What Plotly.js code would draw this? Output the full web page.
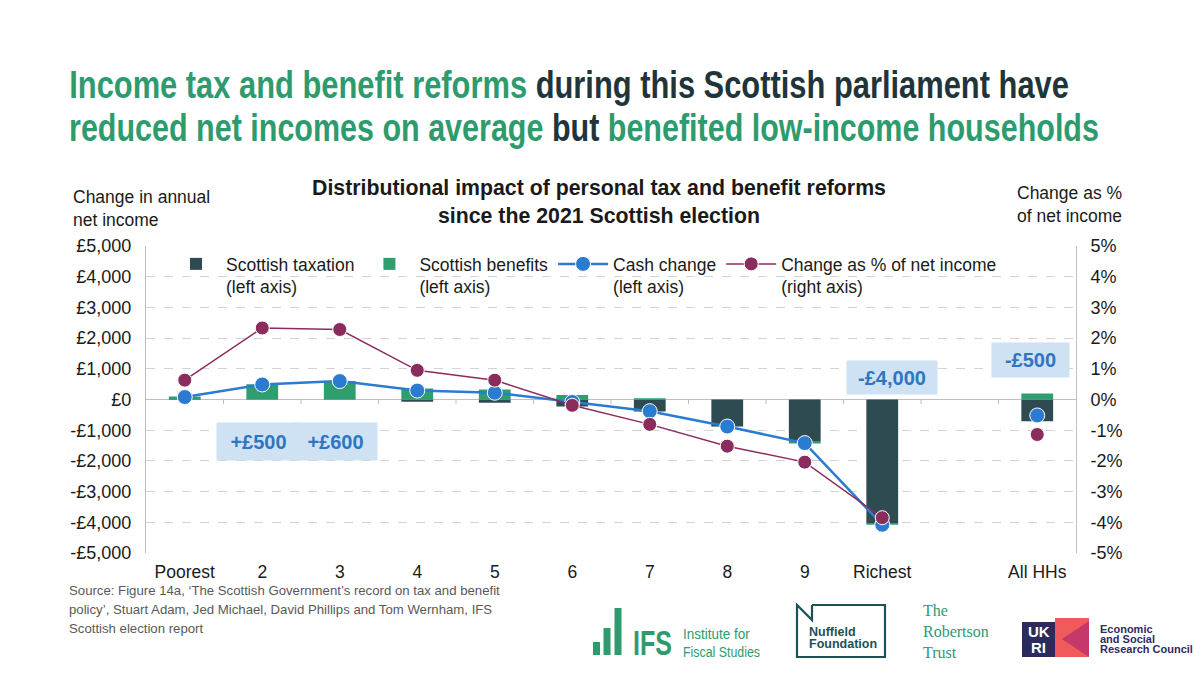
<!DOCTYPE html>
<html><head><meta charset="utf-8">
<script src="https://cdn.plot.ly/plotly-3.0.1.min.js"></script>
<style>html,body{margin:0;padding:0;background:#fff}#chart{width:1200px;height:675px}</style>
</head><body><div id="chart"></div>
<script>
// ---- data ----
const categories = ["Poorest","2","3","4","5","6","7","8","9","Richest","","All HHs"];
const taxation   = [-20, -5, -5, -75, -107, -230, -390, -880, -1380, -4020, null, -710];
const benefits   = [100, 495, 600, 360, 325, 145, 42, -10, -50, -60, null, 195];
const cashChange = [80, 490, 600, 290, 220, -80, -380, -880, -1420, -4080, null, -520];
const pctChange  = [0.63, 2.33, 2.28, 0.95, 0.63, -0.19, -0.81, -1.52, -2.04, -3.85, null, -1.14];
const leftTickVals  = [-5000,-4000,-3000,-2000,-1000,0,1000,2000,3000,4000,5000];
const leftTickText  = ["-£5,000","-£4,000","-£3,000","-£2,000","-£1,000","£0","£1,000","£2,000","£3,000","£4,000","£5,000"];
const rightTickVals = [-5,-4,-3,-2,-1,0,1,2,3,4,5];
const rightTickText = ["-5%","-4%","-3%","-2%","-1%","0%","1%","2%","3%","4%","5%"];
const seriesNames = ["Scottish taxation<br>(left axis)","Scottish benefits<br>(left axis)","Cash change<br>(left axis)","Change as % of net income<br>(right axis)"];

// ---- layout helpers ----
const L = 146, R = 1076, T = 246, B = 553;
const W = R - L, H = B - T;
const px = x => (x - L) / W;
const py = y => (B - y) / H;
const xIdx = categories.map((c, i) => i);

const C_TAX = "#2f4b52", C_BEN = "#2e9e6e", C_CASH = "#2b7bd0", C_PCT = "#8b2d5c";
const GREEN = "#2e9b6e", DARK = "#1f353b";
const FONT = "Liberation Sans, Arial, sans-serif";
const SERIF = "Liberation Serif, DejaVu Serif, serif";

const traces = [
  {type:"bar", name:seriesNames[0], x:xIdx, y:taxation, marker:{color:C_TAX}, yaxis:"y", hoverinfo:"skip"},
  {type:"bar", name:seriesNames[1], x:xIdx, y:benefits, marker:{color:C_BEN}, yaxis:"y", hoverinfo:"skip"},
  {type:"scatter", mode:"lines+markers", name:seriesNames[2], x:xIdx, y:cashChange, yaxis:"y",
   line:{color:C_CASH, width:2.5}, marker:{color:C_CASH, size:15, line:{color:"#fff", width:1}}, connectgaps:false, hoverinfo:"skip"},
  {type:"scatter", mode:"lines+markers", name:seriesNames[3], x:xIdx, y:pctChange, yaxis:"y2",
   line:{color:C_PCT, width:1.5}, marker:{color:C_PCT, size:14, line:{color:"#fff", width:1}}, connectgaps:false, hoverinfo:"skip"}
];

const shapes = [];
// category boundary ticks on the zero line
for (let i = 0; i < categories.length - 1; i++) {
  shapes.push({type:"line", xref:"x", yref:"y", x0:i+0.5, x1:i+0.5, y0:0, y1:-150, line:{color:"#bfbfbf", width:1}});
}
// logos
const rectPx = (x0,y0,x1,y1,color) => ({type:"rect", xref:"paper", yref:"paper", x0:px(x0), x1:px(x1), y0:py(y1), y1:py(y0), fillcolor:color, line:{width:0}, layer:"above"});
shapes.push(rectPx(593,642,600,655,GREEN));
shapes.push(rectPx(603.5,628,610.5,655,GREEN));
shapes.push(rectPx(614.5,608,621.5,655,GREEN));
const pathPx = pts => "M " + pts.map(p => px(p[0]).toFixed(5) + "," + py(p[1]).toFixed(5)).join(" L ");
shapes.push({type:"path", xref:"paper", yref:"paper", path:pathPx([[812,605],[812,620],[797,605],[797,657],[885,657],[885,605],[812,605]]),
  line:{color:"#1d5156", width:2.2}, fillcolor:"rgba(0,0,0,0)", layer:"above"});
shapes.push(rectPx(1022,622,1055,657,"#2c2a5e"));
shapes.push(rectPx(1055,618,1089,657,"#f05a5a"));
shapes.push({type:"path", xref:"paper", yref:"paper", path:pathPx([[1089,621],[1062,639],[1089,657]]) + " Z",
  fillcolor:"#c4386a", line:{width:0}, layer:"above"});

const ann = [];
const squeeze = []; // [annotation index, target width px, origin]
const txt = (x, y, text, size, color, opts) => Object.assign({xref:"paper", yref:"paper", x:px(x), y:py(y), text:text, showarrow:false,
  xanchor:"left", yanchor:"middle", font:{family:FONT, size:size, color:color}}, opts || {});

// main heading (condensed look: horizontally squeezed to the reference width)
squeeze.push([ann.length, 1000, "left center"]);
ann.push(txt(67, 84, `<b><span style="color:${GREEN}">Income tax and benefit reforms</span> during this Scottish parliament have</b>`, 39, DARK));
squeeze.push([ann.length, 1030, "left center"]);
ann.push(txt(67, 127, `<b><span style="color:${GREEN}">reduced net incomes on average</span> but <span style="color:${GREEN}">benefited low-income households</span></b>`, 39, DARK));
// chart title
ann.push(txt(599, 202, "<b>Distributional impact of personal tax and benefit reforms</b><br><b>since the 2021 Scottish election</b>", 21.3, "#1a1a1a", {xanchor:"center"}));
// axis titles
ann.push(txt(71, 208, "Change in annual<br>net income", 17.5, "#1a1a1a", {align:"left"}));
ann.push(txt(1124, 205, "Change as %<br>of net income", 17.5, "#1a1a1a", {xanchor:"right", align:"right"}));
// callouts
const callout = (xi, yv, text, w, h, xs) => ({xref:"x", yref:"y", x:xi, y:yv, text:"<b>"+text+"</b>", showarrow:false,
  bgcolor:"#cfe2f3", width:w, height:h, xshift:xs||0, font:{family:FONT, size:20, color:"#2e75c2"}});
ann.push(callout(1, -1373, "+£500", 81, 35, -4));
ann.push(callout(2, -1373, "+£600", 81, 35, -4));
ann.push(callout(9, 710, "-£4,000", 88, 31, 10));
ann.push(callout(11, 1280, "-£500", 75, 32, -7));
// source
ann.push(txt(67, 590, "Source: Figure 14a, ‘The Scottish Government’s record on tax and benefit", 13.2, "#595959"));
ann.push(txt(67, 609, "policy’, Stuart Adam, Jed Michael, David Phillips and Tom Wernham, IFS", 13.2, "#595959"));
ann.push(txt(67, 628, "Scottish election report", 13.2, "#595959"));
// logos text
squeeze.push([ann.length, 39, "left center"]);
ann.push(txt(631, 642, "<b>IFS</b>", 36, GREEN));
squeeze.push([ann.length, 67, "left center"]);
ann.push(txt(681, 634, "Institute for", 14.5, GREEN));
squeeze.push([ann.length, 77, "left center"]);
ann.push(txt(681, 651.5, "Fiscal Studies", 14.5, GREEN));
ann.push(txt(807, 631.5, "<b>Nuffield</b>", 12.5, "#1d5156"));
ann.push(txt(807, 643.5, "<b>Foundation</b>", 12.5, "#1d5156"));
ann.push(txt(921, 631.5, "The<br>Robertson<br>Trust", 16, "#2a9a78", {align:"left", font:{family:SERIF, size:16, color:"#2a9a78"}}));
ann.push(txt(1038.5, 631, "<b>UK</b>", 15, "#ffffff", {xanchor:"center"}));
ann.push(txt(1038.5, 647, "<b>RI</b>", 15, "#ffffff", {xanchor:"center"}));
ann.push(txt(1098, 628.5, "<b>Economic</b>", 11, "#2f2c5e"));
ann.push(txt(1098, 638.5, "<b>and Social</b>", 11, "#2f2c5e"));
ann.push(txt(1098, 648.5, "<b>Research Council</b>", 11, "#2f2c5e"));

const layout = {
  width:1200, height:675,
  margin:{l:L, r:1200-R, t:T, b:675-B, pad:0},
  paper_bgcolor:"#fff", plot_bgcolor:"#fff",
  barmode:"relative", bargap:0.59,
  font:{family:FONT, size:17.5, color:"#1a1a1a"},
  showlegend:true,
  legend:{orientation:"h", x:px(166), y:py(246), xanchor:"left", yanchor:"top", bgcolor:"rgba(0,0,0,0)",
    font:{family:FONT, size:17.5, color:"#1a1a1a"}, itemwidth:50, traceorder:"normal", valign:"top"},
  xaxis:{range:[-0.5, categories.length-0.5], tickvals:xIdx, ticktext:categories, showgrid:false, zeroline:false,
    showline:false, ticks:"", ticklabelstandoff:6, tickfont:{size:17.5}, fixedrange:true},
  yaxis:{range:[-5000,5000], tickvals:leftTickVals, ticktext:leftTickText, showgrid:true, gridcolor:"#d3d3d3", griddash:"dash",
    zeroline:true, zerolinecolor:"#bfbfbf", zerolinewidth:1, showline:true, linecolor:"#bfbfbf", linewidth:1,
    ticks:"", ticklabelstandoff:10, tickfont:{size:18}},
  yaxis2:{range:[-5,5], overlaying:"y", side:"right", tickvals:rightTickVals, ticktext:rightTickText, showgrid:false, zeroline:false,
    showline:true, linecolor:"#bfbfbf", linewidth:1, ticks:"", ticklabelstandoff:10, tickfont:{size:18}},
  shapes:shapes, annotations:ann
};
Plotly.newPlot("chart", traces, layout, {staticPlot:true, displayModeBar:false}).then(gd => {
  squeeze.forEach(([idx, target, origin]) => {
    const g = gd.querySelector('.annotation[data-index="' + idx + '"]');
    if (!g) return;
    const t = g.querySelector('text.annotation-text');
    if (!t) return;
    const w = t.getBBox().width;
    if (!w) return;
    const s = Math.min(1, target / w);
    t.style.transformBox = "fill-box";
    t.style.transformOrigin = origin;
    t.style.transform = "scaleX(" + s.toFixed(4) + ")";
  });
});
</script></body></html>
